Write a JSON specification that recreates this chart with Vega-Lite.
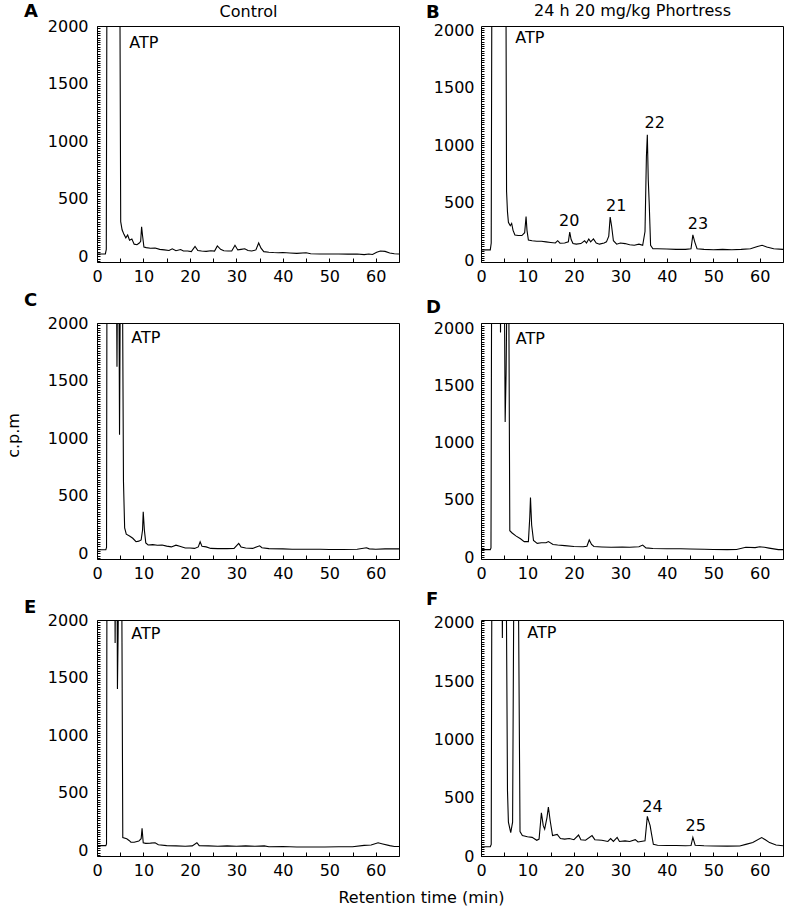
{
  "$schema": "https://vega.github.io/schema/vega-lite/v6.json",
  "padding": {"left": 4, "top": 1, "right": 2, "bottom": 5},
  "background": "white",
  "config": {
    "font": "DejaVu Sans",
    "view": {"stroke": "#000", "strokeWidth": 1},
    "axis": {"grid": false, "domain": false, "labelFont": "DejaVu Sans", "labelFontSize": 16, "labelColor": "#000", "tickColor": "#000", "tickWidth": 1, "titleFont": "DejaVu Sans", "titleFontSize": 16, "titleFontWeight": "normal", "titleColor": "#000", "labelFlush": false, "labelOverlap": false},
    "title": {"font": "DejaVu Sans", "fontSize": 18, "fontWeight": "bold", "color": "#000", "anchor": "start", "frame": "group"}
  },
  "datasets": {
    "trace": [
      {"p":"A","t":0,"c":20},{"p":"A","t":1.8,"c":20},{"p":"A","t":2.0,"c":60},{"p":"A","t":2.15,"c":2600},{"p":"A","t":4.9,"c":2600},{"p":"A","t":5.1,"c":300},{"p":"A","t":5.4,"c":230},{"p":"A","t":5.8,"c":190},{"p":"A","t":6.2,"c":160},{"p":"A","t":6.6,"c":185},{"p":"A","t":7.0,"c":140},{"p":"A","t":7.5,"c":150},{"p":"A","t":8.0,"c":105},{"p":"A","t":8.6,"c":100},{"p":"A","t":9.1,"c":115},{"p":"A","t":9.4,"c":130},{"p":"A","t":9.6,"c":255},{"p":"A","t":9.8,"c":180},{"p":"A","t":10.1,"c":80},{"p":"A","t":10.6,"c":75},{"p":"A","t":11.5,"c":70},{"p":"A","t":12.5,"c":72},{"p":"A","t":13.5,"c":60},{"p":"A","t":14.5,"c":55},{"p":"A","t":15.5,"c":50},{"p":"A","t":16.2,"c":65},{"p":"A","t":17,"c":48},{"p":"A","t":18,"c":58},{"p":"A","t":18.6,"c":45},{"p":"A","t":19.5,"c":45},{"p":"A","t":20.3,"c":40},{"p":"A","t":21.1,"c":85},{"p":"A","t":21.7,"c":50},{"p":"A","t":22.5,"c":45},{"p":"A","t":23.5,"c":42},{"p":"A","t":24.5,"c":48},{"p":"A","t":25.3,"c":45},{"p":"A","t":25.9,"c":90},{"p":"A","t":26.6,"c":60},{"p":"A","t":27.3,"c":48},{"p":"A","t":28.2,"c":45},{"p":"A","t":29,"c":45},{"p":"A","t":29.7,"c":95},{"p":"A","t":30.3,"c":55},{"p":"A","t":31,"c":60},{"p":"A","t":31.8,"c":65},{"p":"A","t":32.5,"c":50},{"p":"A","t":33.3,"c":45},{"p":"A","t":34.2,"c":55},{"p":"A","t":34.8,"c":115},{"p":"A","t":35.3,"c":70},{"p":"A","t":35.9,"c":40},{"p":"A","t":37,"c":35},{"p":"A","t":38,"c":32},{"p":"A","t":39,"c":30},{"p":"A","t":40,"c":32},{"p":"A","t":41.5,"c":28},{"p":"A","t":43,"c":25},{"p":"A","t":45,"c":30},{"p":"A","t":46,"c":22},{"p":"A","t":48,"c":20},{"p":"A","t":50,"c":20},{"p":"A","t":52,"c":20},{"p":"A","t":54,"c":18},{"p":"A","t":56,"c":20},{"p":"A","t":57.5,"c":14},{"p":"A","t":58.5,"c":20},{"p":"A","t":59.3,"c":15},{"p":"A","t":60.2,"c":35},{"p":"A","t":61,"c":45},{"p":"A","t":62,"c":42},{"p":"A","t":63,"c":28},{"p":"A","t":64,"c":22},{"p":"A","t":65,"c":20},

      {"p":"B","t":0,"c":90},{"p":"B","t":2.0,"c":90},{"p":"B","t":2.2,"c":150},{"p":"B","t":2.35,"c":2600},{"p":"B","t":5.35,"c":2600},{"p":"B","t":5.5,"c":600},{"p":"B","t":5.7,"c":420},{"p":"B","t":5.9,"c":330},{"p":"B","t":6.3,"c":300},{"p":"B","t":6.6,"c":320},{"p":"B","t":6.9,"c":260},{"p":"B","t":7.3,"c":220},{"p":"B","t":8,"c":215},{"p":"B","t":8.8,"c":215},{"p":"B","t":9.4,"c":240},{"p":"B","t":9.7,"c":380},{"p":"B","t":9.9,"c":260},{"p":"B","t":10.2,"c":175},{"p":"B","t":11,"c":170},{"p":"B","t":12,"c":165},{"p":"B","t":13,"c":165},{"p":"B","t":14,"c":160},{"p":"B","t":15,"c":155},{"p":"B","t":16,"c":150},{"p":"B","t":16.5,"c":170},{"p":"B","t":17,"c":148},{"p":"B","t":18,"c":150},{"p":"B","t":18.8,"c":160},{"p":"B","t":19.1,"c":245},{"p":"B","t":19.4,"c":180},{"p":"B","t":19.8,"c":145},{"p":"B","t":20.5,"c":140},{"p":"B","t":21.5,"c":145},{"p":"B","t":22.3,"c":170},{"p":"B","t":22.7,"c":150},{"p":"B","t":23.2,"c":185},{"p":"B","t":23.6,"c":160},{"p":"B","t":24.2,"c":185},{"p":"B","t":24.8,"c":150},{"p":"B","t":25.5,"c":140},{"p":"B","t":26.5,"c":150},{"p":"B","t":27,"c":160},{"p":"B","t":27.5,"c":210},{"p":"B","t":27.8,"c":375},{"p":"B","t":28.1,"c":300},{"p":"B","t":28.5,"c":170},{"p":"B","t":29.2,"c":140},{"p":"B","t":30,"c":150},{"p":"B","t":31,"c":145},{"p":"B","t":32,"c":135},{"p":"B","t":33,"c":130},{"p":"B","t":34,"c":140},{"p":"B","t":34.8,"c":130},{"p":"B","t":35.3,"c":250},{"p":"B","t":35.6,"c":900},{"p":"B","t":35.8,"c":1090},{"p":"B","t":36.0,"c":700},{"p":"B","t":36.2,"c":500},{"p":"B","t":36.5,"c":130},{"p":"B","t":37,"c":100},{"p":"B","t":38,"c":100},{"p":"B","t":40,"c":98},{"p":"B","t":42,"c":95},{"p":"B","t":44,"c":95},{"p":"B","t":45.2,"c":100},{"p":"B","t":45.6,"c":220},{"p":"B","t":46,"c":160},{"p":"B","t":46.5,"c":100},{"p":"B","t":48,"c":95},{"p":"B","t":50,"c":92},{"p":"B","t":52,"c":95},{"p":"B","t":54,"c":92},{"p":"B","t":56,"c":95},{"p":"B","t":58,"c":100},{"p":"B","t":59.5,"c":120},{"p":"B","t":60.5,"c":130},{"p":"B","t":61.5,"c":115},{"p":"B","t":63,"c":100},{"p":"B","t":65,"c":95},

      {"p":"C","t":0,"c":30},{"p":"C","t":1.9,"c":30},{"p":"C","t":2.05,"c":50},{"p":"C","t":2.15,"c":2600},{"p":"C","t":4.15,"c":2600},{"p":"C","t":4.3,"c":1620},{"p":"C","t":4.45,"c":2600},{"p":"C","t":4.7,"c":2600},{"p":"C","t":4.85,"c":1030},{"p":"C","t":5.05,"c":2600},{"p":"C","t":5.45,"c":2600},{"p":"C","t":5.7,"c":620},{"p":"C","t":5.95,"c":220},{"p":"C","t":6.3,"c":165},{"p":"C","t":7,"c":150},{"p":"C","t":7.7,"c":130},{"p":"C","t":8.4,"c":100},{"p":"C","t":9.0,"c":105},{"p":"C","t":9.5,"c":115},{"p":"C","t":9.8,"c":200},{"p":"C","t":9.95,"c":360},{"p":"C","t":10.2,"c":200},{"p":"C","t":10.5,"c":90},{"p":"C","t":11,"c":72},{"p":"C","t":12,"c":75},{"p":"C","t":13,"c":70},{"p":"C","t":14,"c":72},{"p":"C","t":15,"c":62},{"p":"C","t":16,"c":55},{"p":"C","t":17,"c":70},{"p":"C","t":17.8,"c":60},{"p":"C","t":19,"c":45},{"p":"C","t":20,"c":45},{"p":"C","t":21,"c":42},{"p":"C","t":21.8,"c":55},{"p":"C","t":22.2,"c":100},{"p":"C","t":22.6,"c":60},{"p":"C","t":23.5,"c":55},{"p":"C","t":24.5,"c":42},{"p":"C","t":26,"c":40},{"p":"C","t":28,"c":40},{"p":"C","t":29.5,"c":42},{"p":"C","t":30.5,"c":85},{"p":"C","t":31,"c":55},{"p":"C","t":32,"c":45},{"p":"C","t":33.5,"c":42},{"p":"C","t":35,"c":65},{"p":"C","t":35.5,"c":48},{"p":"C","t":37,"c":40},{"p":"C","t":40,"c":38},{"p":"C","t":42,"c":35},{"p":"C","t":45,"c":35},{"p":"C","t":48,"c":35},{"p":"C","t":50,"c":32},{"p":"C","t":53,"c":32},{"p":"C","t":56,"c":35},{"p":"C","t":58,"c":48},{"p":"C","t":58.6,"c":38},{"p":"C","t":60,"c":35},{"p":"C","t":62,"c":38},{"p":"C","t":65,"c":38},

      {"p":"D","t":0,"c":65},{"p":"D","t":2.0,"c":65},{"p":"D","t":2.15,"c":80},{"p":"D","t":2.3,"c":2600},{"p":"D","t":4.1,"c":2600},{"p":"D","t":4.2,"c":1960},{"p":"D","t":4.3,"c":2600},{"p":"D","t":5.0,"c":2600},{"p":"D","t":5.2,"c":1180},{"p":"D","t":5.4,"c":1600},{"p":"D","t":5.65,"c":2600},{"p":"D","t":5.95,"c":2600},{"p":"D","t":6.2,"c":230},{"p":"D","t":6.7,"c":210},{"p":"D","t":7.5,"c":185},{"p":"D","t":8.5,"c":160},{"p":"D","t":9.3,"c":135},{"p":"D","t":10.2,"c":135},{"p":"D","t":10.5,"c":350},{"p":"D","t":10.65,"c":520},{"p":"D","t":10.9,"c":280},{"p":"D","t":11.3,"c":145},{"p":"D","t":12.1,"c":120},{"p":"D","t":13,"c":125},{"p":"D","t":14,"c":125},{"p":"D","t":14.5,"c":135},{"p":"D","t":15.5,"c":110},{"p":"D","t":16.5,"c":105},{"p":"D","t":18,"c":100},{"p":"D","t":20,"c":92},{"p":"D","t":22,"c":90},{"p":"D","t":22.8,"c":95},{"p":"D","t":23.3,"c":150},{"p":"D","t":23.8,"c":110},{"p":"D","t":24.3,"c":92},{"p":"D","t":26,"c":88},{"p":"D","t":28,"c":85},{"p":"D","t":30.4,"c":88},{"p":"D","t":32,"c":85},{"p":"D","t":34,"c":90},{"p":"D","t":34.8,"c":105},{"p":"D","t":35.5,"c":80},{"p":"D","t":37,"c":75},{"p":"D","t":40,"c":72},{"p":"D","t":43,"c":72},{"p":"D","t":45,"c":70},{"p":"D","t":48,"c":68},{"p":"D","t":50,"c":66},{"p":"D","t":53,"c":65},{"p":"D","t":55,"c":66},{"p":"D","t":57,"c":85},{"p":"D","t":59,"c":82},{"p":"D","t":60,"c":90},{"p":"D","t":61,"c":85},{"p":"D","t":62,"c":78},{"p":"D","t":64,"c":65},{"p":"D","t":65,"c":65},

      {"p":"E","t":0,"c":40},{"p":"E","t":1.9,"c":40},{"p":"E","t":2.05,"c":55},{"p":"E","t":2.15,"c":2600},{"p":"E","t":3.8,"c":2600},{"p":"E","t":3.9,"c":1800},{"p":"E","t":4.0,"c":2600},{"p":"E","t":4.3,"c":2600},{"p":"E","t":4.4,"c":1400},{"p":"E","t":4.55,"c":1900},{"p":"E","t":4.7,"c":2600},{"p":"E","t":5.3,"c":2600},{"p":"E","t":5.55,"c":110},{"p":"E","t":6.4,"c":100},{"p":"E","t":6.9,"c":85},{"p":"E","t":7.3,"c":70},{"p":"E","t":8,"c":70},{"p":"E","t":9,"c":80},{"p":"E","t":9.5,"c":100},{"p":"E","t":9.7,"c":190},{"p":"E","t":9.95,"c":65},{"p":"E","t":10.5,"c":60},{"p":"E","t":11.5,"c":62},{"p":"E","t":12.5,"c":65},{"p":"E","t":13.2,"c":48},{"p":"E","t":15,"c":40},{"p":"E","t":17,"c":38},{"p":"E","t":19,"c":35},{"p":"E","t":20.5,"c":38},{"p":"E","t":21.5,"c":65},{"p":"E","t":22,"c":40},{"p":"E","t":24,"c":38},{"p":"E","t":26,"c":35},{"p":"E","t":28,"c":38},{"p":"E","t":30,"c":35},{"p":"E","t":32,"c":38},{"p":"E","t":34,"c":35},{"p":"E","t":36,"c":38},{"p":"E","t":37,"c":30},{"p":"E","t":40,"c":32},{"p":"E","t":43,"c":28},{"p":"E","t":46,"c":28},{"p":"E","t":49,"c":28},{"p":"E","t":52,"c":30},{"p":"E","t":55,"c":30},{"p":"E","t":57.5,"c":42},{"p":"E","t":59,"c":45},{"p":"E","t":60.5,"c":65},{"p":"E","t":61.5,"c":55},{"p":"E","t":63,"c":40},{"p":"E","t":64,"c":32},{"p":"E","t":65,"c":32},

      {"p":"F","t":0,"c":80},{"p":"F","t":2.0,"c":80},{"p":"F","t":2.2,"c":100},{"p":"F","t":2.35,"c":2600},{"p":"F","t":4.5,"c":2600},{"p":"F","t":4.6,"c":1870},{"p":"F","t":4.7,"c":2600},{"p":"F","t":5.4,"c":2600},{"p":"F","t":5.7,"c":560},{"p":"F","t":5.9,"c":290},{"p":"F","t":6.4,"c":200},{"p":"F","t":6.8,"c":290},{"p":"F","t":7.1,"c":2600},{"p":"F","t":8.0,"c":2600},{"p":"F","t":8.4,"c":210},{"p":"F","t":8.9,"c":175},{"p":"F","t":10,"c":165},{"p":"F","t":11,"c":160},{"p":"F","t":12,"c":135},{"p":"F","t":12.5,"c":145},{"p":"F","t":13.0,"c":370},{"p":"F","t":13.4,"c":260},{"p":"F","t":13.7,"c":230},{"p":"F","t":14.2,"c":330},{"p":"F","t":14.5,"c":420},{"p":"F","t":14.9,"c":300},{"p":"F","t":15.4,"c":175},{"p":"F","t":16.4,"c":185},{"p":"F","t":17.1,"c":150},{"p":"F","t":18,"c":145},{"p":"F","t":19,"c":150},{"p":"F","t":20,"c":140},{"p":"F","t":21,"c":180},{"p":"F","t":21.5,"c":140},{"p":"F","t":22.5,"c":135},{"p":"F","t":23.9,"c":175},{"p":"F","t":24.5,"c":140},{"p":"F","t":26,"c":135},{"p":"F","t":27.3,"c":125},{"p":"F","t":27.9,"c":150},{"p":"F","t":28.5,"c":125},{"p":"F","t":29.3,"c":160},{"p":"F","t":29.8,"c":125},{"p":"F","t":31,"c":130},{"p":"F","t":32,"c":125},{"p":"F","t":33.2,"c":140},{"p":"F","t":33.8,"c":120},{"p":"F","t":35.3,"c":130},{"p":"F","t":35.8,"c":340},{"p":"F","t":36.1,"c":300},{"p":"F","t":36.4,"c":260},{"p":"F","t":36.7,"c":190},{"p":"F","t":37.1,"c":100},{"p":"F","t":38,"c":92},{"p":"F","t":40,"c":90},{"p":"F","t":42,"c":90},{"p":"F","t":44,"c":88},{"p":"F","t":45.2,"c":90},{"p":"F","t":45.6,"c":160},{"p":"F","t":46.1,"c":92},{"p":"F","t":48,"c":88},{"p":"F","t":50,"c":86},{"p":"F","t":53,"c":85},{"p":"F","t":55.7,"c":86},{"p":"F","t":57,"c":100},{"p":"F","t":58.5,"c":115},{"p":"F","t":60.4,"c":158},{"p":"F","t":61.2,"c":140},{"p":"F","t":62.1,"c":115},{"p":"F","t":63.5,"c":95},{"p":"F","t":65,"c":88}
    ],
    "labels": [
      {"p":"A","t":10.1,"c":1812,"label":"ATP"},
      {"p":"B","t":10.5,"c":1884,"label":"ATP"},
      {"p":"B","t":19.0,"c":302,"label":"20"},
      {"p":"B","t":29.1,"c":432,"label":"21"},
      {"p":"B","t":37.4,"c":1152,"label":"22"},
      {"p":"B","t":46.7,"c":274,"label":"23"},
      {"p":"C","t":10.5,"c":1826,"label":"ATP"},
      {"p":"D","t":10.6,"c":1862,"label":"ATP"},
      {"p":"E","t":10.5,"c":1834,"label":"ATP"},
      {"p":"F","t":13.1,"c":1874,"label":"ATP"},
      {"p":"F","t":36.9,"c":374,"label":"24"},
      {"p":"F","t":46.2,"c":215,"label":"25"}
    ]
  },
  "columns": 2,
  "bounds": "flush",
  "spacing": {"row": 61, "column": 82},
  "concat": [
    {
      "width": 302, "height": 236,
      "title": {"text": "A", "dx": -73, "offset": -18},
      "layer": [
        {"data": {"name": "trace"}, "transform": [{"filter": "datum.p === 'A'"}],
         "mark": {"type": "line", "clip": true, "color": "#000", "strokeWidth": 1.1},
         "encoding": {
           "x": {"field": "t", "type": "quantitative", "scale": {"domain": [0, 65], "nice": false, "zero": false}, "axis": {"title": null, "tickCount": 13, "format": "d", "labelExpr": "datum.value % 10 === 0 ? datum.label : ''", "tickSize": -4, "labelPadding": 10}},
           "y": {"field": "c", "type": "quantitative", "scale": {"domain": [-50, 2000], "nice": false, "zero": false}, "axis": {"title": null, "tickCount": 100, "format": "d", "labelExpr": "datum.value % 500 === 0 ? datum.label : ''", "tickSize": -3, "labelPadding": 12}}
         }},
        {"data": {"name": "labels"}, "transform": [{"filter": "datum.p === 'A'"}],
         "mark": {"type": "text", "align": "center", "baseline": "alphabetic", "fontSize": 16, "color": "#000"},
         "encoding": {
           "x": {"field": "t", "type": "quantitative", "scale": {"domain": [0, 65], "nice": false, "zero": false}, "axis": {"orient": "top", "title": "Control", "labels": false, "ticks": false, "domain": false, "titlePadding": 7}},
           "y": {"field": "c", "type": "quantitative", "scale": {"domain": [-50, 2000], "nice": false, "zero": false}, "axis": {"title": null, "tickCount": 100, "format": "d", "labelExpr": "datum.value % 500 === 0 ? datum.label : ''", "tickSize": -3, "labelPadding": 12}},
           "text": {"field": "label"}
         }}
      ],
      "resolve": {"axis": {"x": "independent"}}
    },
    {
      "width": 302, "height": 236,
      "title": {"text": "B", "dx": -55, "offset": -20},
      "layer": [
        {"data": {"name": "trace"}, "transform": [{"filter": "datum.p === 'B'"}],
         "mark": {"type": "line", "clip": true, "color": "#000", "strokeWidth": 1.1},
         "encoding": {
           "x": {"field": "t", "type": "quantitative", "scale": {"domain": [0, 65], "nice": false, "zero": false}, "axis": {"title": null, "tickCount": 13, "format": "d", "labelExpr": "datum.value % 10 === 0 ? datum.label : ''", "tickSize": -4, "labelPadding": 10}},
           "y": {"field": "c", "type": "quantitative", "scale": {"domain": [-15, 2035], "nice": false, "zero": false}, "axis": {"title": null, "tickCount": 100, "format": "d", "labelExpr": "datum.value % 500 === 0 ? datum.label : ''", "tickSize": -3, "labelPadding": 10}}
         }},
        {"data": {"name": "labels"}, "transform": [{"filter": "datum.p === 'B'"}],
         "mark": {"type": "text", "align": "center", "baseline": "alphabetic", "fontSize": 16, "color": "#000"},
         "encoding": {
           "x": {"field": "t", "type": "quantitative", "scale": {"domain": [0, 65], "nice": false, "zero": false}, "axis": {"orient": "top", "title": "24 h 20 mg/kg Phortress", "labels": false, "ticks": false, "domain": false, "titlePadding": 8}},
           "y": {"field": "c", "type": "quantitative", "scale": {"domain": [-15, 2035], "nice": false, "zero": false}, "axis": {"title": null, "tickCount": 100, "format": "d", "labelExpr": "datum.value % 500 === 0 ? datum.label : ''", "tickSize": -3, "labelPadding": 10}},
           "text": {"field": "label"}
         }}
      ],
      "resolve": {"axis": {"x": "independent"}}
    },
    {
      "width": 302, "height": 236,
      "title": {"text": "C", "dx": -73, "offset": 5},
      "layer": [
        {"data": {"name": "trace"}, "transform": [{"filter": "datum.p === 'C'"}],
         "mark": {"type": "line", "clip": true, "color": "#000", "strokeWidth": 1.1},
         "encoding": {
           "x": {"field": "t", "type": "quantitative", "scale": {"domain": [0, 65], "nice": false, "zero": false}, "axis": {"title": null, "tickCount": 13, "format": "d", "labelExpr": "datum.value % 10 === 0 ? datum.label : ''", "tickSize": -4, "labelPadding": 10}},
           "y": {"field": "c", "type": "quantitative", "scale": {"domain": [-50, 2000], "nice": false, "zero": false}, "axis": {"title": "c.p.m", "titleX": -76, "titleY": 112, "titleAngle": -90, "titleAlign": "center", "titleBaseline": "bottom", "tickCount": 100, "format": "d", "labelExpr": "datum.value % 500 === 0 ? datum.label : ''", "tickSize": -3, "labelPadding": 12}}
         }},
        {"data": {"name": "labels"}, "transform": [{"filter": "datum.p === 'C'"}],
         "mark": {"type": "text", "align": "center", "baseline": "alphabetic", "fontSize": 16, "color": "#000"},
         "encoding": {
           "x": {"field": "t", "type": "quantitative", "scale": {"domain": [0, 65], "nice": false, "zero": false}, "axis": {"title": null, "tickCount": 13, "format": "d", "labelExpr": "datum.value % 10 === 0 ? datum.label : ''", "tickSize": -4, "labelPadding": 10}},
           "y": {"field": "c", "type": "quantitative", "scale": {"domain": [-50, 2000], "nice": false, "zero": false}, "axis": {"title": "c.p.m", "titleX": -76, "titleY": 112, "titleAngle": -90, "titleAlign": "center", "titleBaseline": "bottom", "tickCount": 100, "format": "d", "labelExpr": "datum.value % 500 === 0 ? datum.label : ''", "tickSize": -3, "labelPadding": 12}},
           "text": {"field": "label"}
         }}
      ]
    },
    {
      "width": 302, "height": 236,
      "title": {"text": "D", "dx": -55, "offset": -2},
      "layer": [
        {"data": {"name": "trace"}, "transform": [{"filter": "datum.p === 'D'"}],
         "mark": {"type": "line", "clip": true, "color": "#000", "strokeWidth": 1.1},
         "encoding": {
           "x": {"field": "t", "type": "quantitative", "scale": {"domain": [0, 65], "nice": false, "zero": false}, "axis": {"title": null, "tickCount": 13, "format": "d", "labelExpr": "datum.value % 10 === 0 ? datum.label : ''", "tickSize": -4, "labelPadding": 10}},
           "y": {"field": "c", "type": "quantitative", "scale": {"domain": [-17, 2044], "nice": false, "zero": false}, "axis": {"title": null, "tickCount": 100, "format": "d", "labelExpr": "datum.value % 500 === 0 ? datum.label : ''", "tickSize": -3, "labelPadding": 10}}
         }},
        {"data": {"name": "labels"}, "transform": [{"filter": "datum.p === 'D'"}],
         "mark": {"type": "text", "align": "center", "baseline": "alphabetic", "fontSize": 16, "color": "#000"},
         "encoding": {
           "x": {"field": "t", "type": "quantitative", "scale": {"domain": [0, 65], "nice": false, "zero": false}, "axis": {"title": null, "tickCount": 13, "format": "d", "labelExpr": "datum.value % 10 === 0 ? datum.label : ''", "tickSize": -4, "labelPadding": 10}},
           "y": {"field": "c", "type": "quantitative", "scale": {"domain": [-17, 2044], "nice": false, "zero": false}, "axis": {"title": null, "tickCount": 100, "format": "d", "labelExpr": "datum.value % 500 === 0 ? datum.label : ''", "tickSize": -3, "labelPadding": 10}},
           "text": {"field": "label"}
         }}
      ]
    },
    {
      "width": 302, "height": 236,
      "title": {"text": "E", "dx": -73, "offset": -5},
      "layer": [
        {"data": {"name": "trace"}, "transform": [{"filter": "datum.p === 'E'"}],
         "mark": {"type": "line", "clip": true, "color": "#000", "strokeWidth": 1.1},
         "encoding": {
           "x": {"field": "t", "type": "quantitative", "scale": {"domain": [0, 65], "nice": false, "zero": false}, "axis": {"title": "Retention time (min)", "titleX": 324, "titleY": 46, "titleBaseline": "alphabetic", "titleAnchor": "middle", "tickCount": 13, "format": "d", "labelExpr": "datum.value % 10 === 0 ? datum.label : ''", "tickSize": -4, "labelPadding": 10}},
           "y": {"field": "c", "type": "quantitative", "scale": {"domain": [-50, 2000], "nice": false, "zero": false}, "axis": {"title": null, "tickCount": 100, "format": "d", "labelExpr": "datum.value % 500 === 0 ? datum.label : ''", "tickSize": -3, "labelPadding": 12}}
         }},
        {"data": {"name": "labels"}, "transform": [{"filter": "datum.p === 'E'"}],
         "mark": {"type": "text", "align": "center", "baseline": "alphabetic", "fontSize": 16, "color": "#000"},
         "encoding": {
           "x": {"field": "t", "type": "quantitative", "scale": {"domain": [0, 65], "nice": false, "zero": false}, "axis": {"title": "Retention time (min)", "titleX": 324, "titleY": 46, "titleBaseline": "alphabetic", "titleAnchor": "middle", "tickCount": 13, "format": "d", "labelExpr": "datum.value % 10 === 0 ? datum.label : ''", "tickSize": -4, "labelPadding": 10}},
           "y": {"field": "c", "type": "quantitative", "scale": {"domain": [-50, 2000], "nice": false, "zero": false}, "axis": {"title": null, "tickCount": 100, "format": "d", "labelExpr": "datum.value % 500 === 0 ? datum.label : ''", "tickSize": -3, "labelPadding": 12}},
           "text": {"field": "label"}
         }}
      ]
    },
    {
      "width": 302, "height": 236,
      "title": {"text": "F", "dx": -55, "offset": 4},
      "layer": [
        {"data": {"name": "trace"}, "transform": [{"filter": "datum.p === 'F'"}],
         "mark": {"type": "line", "clip": true, "color": "#000", "strokeWidth": 1.1},
         "encoding": {
           "x": {"field": "t", "type": "quantitative", "scale": {"domain": [0, 65], "nice": false, "zero": false}, "axis": {"title": null, "tickCount": 13, "format": "d", "labelExpr": "datum.value % 10 === 0 ? datum.label : ''", "tickSize": -4, "labelPadding": 10}},
           "y": {"field": "c", "type": "quantitative", "scale": {"domain": [0, 2025], "nice": false, "zero": false}, "axis": {"title": null, "tickCount": 100, "format": "d", "labelExpr": "datum.value % 500 === 0 ? datum.label : ''", "tickSize": -3, "labelPadding": 10}}
         }},
        {"data": {"name": "labels"}, "transform": [{"filter": "datum.p === 'F'"}],
         "mark": {"type": "text", "align": "center", "baseline": "alphabetic", "fontSize": 16, "color": "#000"},
         "encoding": {
           "x": {"field": "t", "type": "quantitative", "scale": {"domain": [0, 65], "nice": false, "zero": false}, "axis": {"title": null, "tickCount": 13, "format": "d", "labelExpr": "datum.value % 10 === 0 ? datum.label : ''", "tickSize": -4, "labelPadding": 10}},
           "y": {"field": "c", "type": "quantitative", "scale": {"domain": [0, 2025], "nice": false, "zero": false}, "axis": {"title": null, "tickCount": 100, "format": "d", "labelExpr": "datum.value % 500 === 0 ? datum.label : ''", "tickSize": -3, "labelPadding": 10}},
           "text": {"field": "label"}
         }}
      ]
    }
  ]
}
